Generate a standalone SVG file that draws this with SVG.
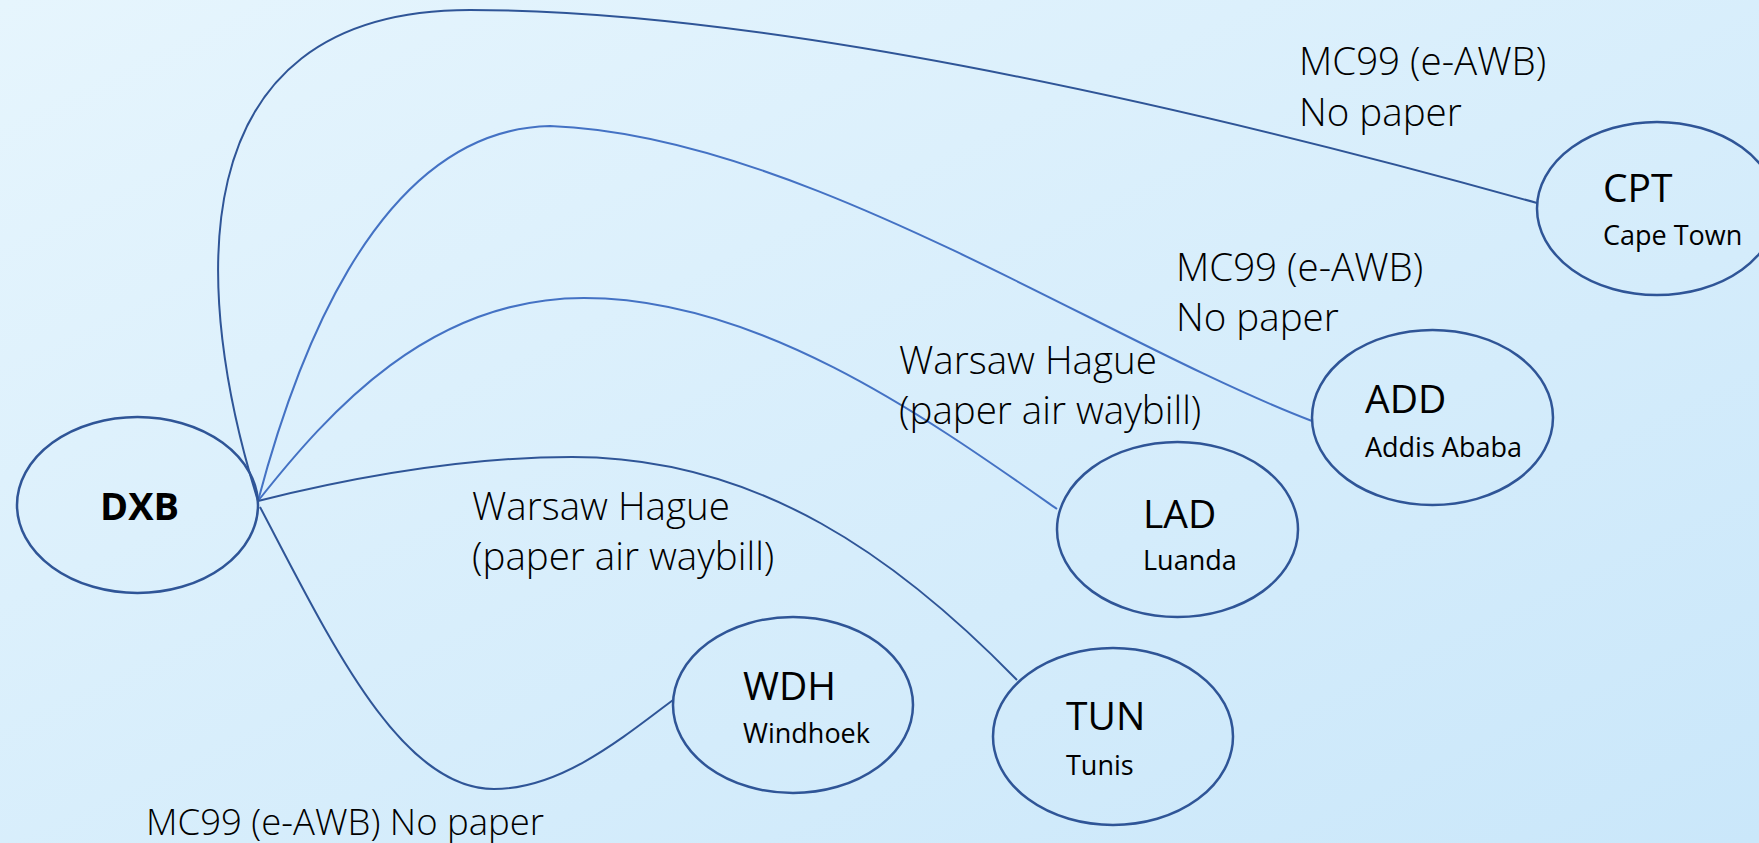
<svg xmlns="http://www.w3.org/2000/svg" width="1759" height="843" viewBox="0 0 1759 843">
<defs>
<linearGradient id="bg" x1="0" y1="0" x2="1" y2="1">
<stop offset="0" stop-color="#E6F5FD"/>
<stop offset="1" stop-color="#CAE7FA"/>
</linearGradient>
<style>
.node{fill:none;stroke:#2F5597;stroke-width:2.5}
.edge{fill:none;stroke-width:2}
.dark{stroke:#2F5597}
.light{stroke:#4472C4}
.t{font-family:"Open Sans","Noto Sans",sans-serif;fill:#000}
.title{font-size:39px}
.sub{font-size:27px}
.lbl{font-size:38.5px;font-weight:300}
.lbl2{font-size:36.5px;font-weight:300}
</style>
</defs>
<rect width="1759" height="843" fill="url(#bg)"/>
<g id="connectors">
<path class="edge dark" d="M258,501 C195,300 170,10 470,10 C750,10 1150,95 1537,203"/>
<path class="edge light" d="M258,501 C290,380 370,130 550,126 C800,135 1100,340 1312,421"/>
<path class="edge light" d="M258,501 C330,410 430,298 584,298 C760,298 930,420 1057,509"/>
<path class="edge dark" d="M258,501 C350,478 460,457 572,457 C760,457 900,560 1017,680"/>
<path class="edge dark" d="M260,507 C330,640 400,789 494,789 C560,789 620,740 673,700"/>
</g>
<g id="labels">
<text class="t lbl" x="1299" y="75">MC99 (e-AWB)</text>
<text class="t lbl" x="1299" y="126">No paper</text>
<text class="t lbl" x="1176" y="281">MC99 (e-AWB)</text>
<text class="t lbl" x="1176" y="331">No paper</text>
<text class="t lbl" x="899" y="374">Warsaw Hague</text>
<text class="t lbl" x="899" y="424">(paper air waybill)</text>
<text class="t lbl" x="472" y="520">Warsaw Hague</text>
<text class="t lbl" x="472" y="570">(paper air waybill)</text>
<text class="t lbl2" x="146" y="835">MC99 (e-AWB) No paper</text>
</g>
<g id="node-DXB">
<ellipse class="node" cx="137.5" cy="505" rx="120.5" ry="88"/>
<text class="t" x="100" y="520" font-size="38" font-weight="bold">DXB</text>
</g>
<g id="node-CPT">
<ellipse class="node" cx="1657" cy="208.5" rx="120" ry="86.5"/>
<text class="t title" x="1603" y="202">CPT</text>
<text class="t sub" x="1603" y="245">Cape Town</text>
</g>
<g id="node-ADD">
<ellipse class="node" cx="1432.5" cy="417.5" rx="120.5" ry="87.5"/>
<text class="t title" x="1365" y="413">ADD</text>
<text class="t sub" x="1365" y="457">Addis Ababa</text>
</g>
<g id="node-LAD">
<ellipse class="node" cx="1177.5" cy="529.5" rx="120.5" ry="87.5"/>
<text class="t title" x="1143" y="528">LAD</text>
<text class="t sub" x="1143" y="570">Luanda</text>
</g>
<g id="node-WDH">
<ellipse class="node" cx="793" cy="705" rx="120" ry="88"/>
<text class="t title" x="743" y="700">WDH</text>
<text class="t sub" x="743" y="743">Windhoek</text>
</g>
<g id="node-TUN">
<ellipse class="node" cx="1113" cy="736.5" rx="120" ry="88.5"/>
<text class="t title" x="1066" y="730">TUN</text>
<text class="t sub" x="1066" y="775">Tunis</text>
</g>
</svg>
